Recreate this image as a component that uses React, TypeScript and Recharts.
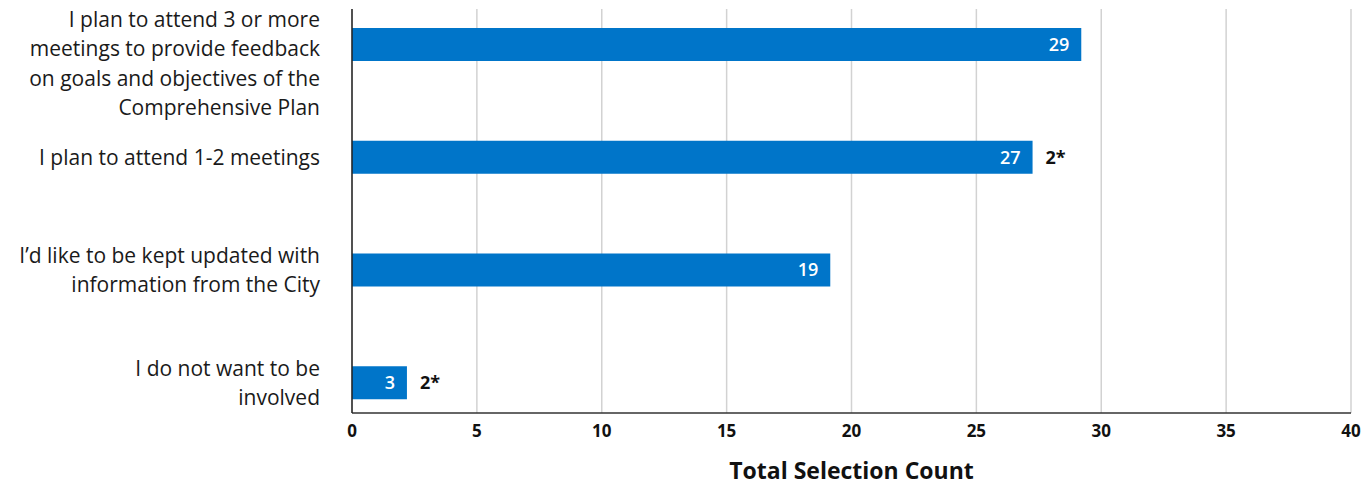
import React from "react"
import { BarChart, Bar, XAxis, YAxis, CartesianGrid, LabelList } from "recharts"

const categories = [
	"I plan to attend 3 or more\nmeetings to provide feedback\non goals and objectives of the\nComprehensive Plan",
	"I plan to attend 1-2 meetings",
	"I’d like to be kept updated with\ninformation from the City",
	"I do not want to be\ninvolved",
]
const barValues = [29.2, 27.25, 19.15, 2.2]
const countLabels = ["29", "27", "19", "3"]
const noteLabels = ["", "2*", "", "2*"]
const xTicks = [0, 5, 10, 15, 20, 25, 30, 35, 40]

const data = categories.map((c, i) => ({
	name: c,
	value: barValues[i],
	count: countLabels[i],
	note: noteLabels[i],
}))

const FONT = "'Open Sans', Lato, sans-serif"

function CategoryTick({ y, payload }: any) {
	const lines = String(payload.value).split("\n")
	const lh = 29.3
	let first = y - ((lines.length - 1) * lh) / 2
	if (first < 19.5) first = 19.5
	const tx = 320
	return (
		<text x={tx} y={first} textAnchor="end" fontFamily={FONT} fontSize={21} fill="#1a1a1a">
			{lines.map((l, i) => (
				<tspan key={i} x={tx} y={first + i * lh} dy="0.36em">
					{l}
				</tspan>
			))}
		</text>
	)
}

function NumberTick({ x, y, payload }: any) {
	return (
		<text x={x} y={y + 16} textAnchor="middle" fontFamily={FONT} fontSize={17} fontWeight={700} fill="#111">
			{payload.value}
		</text>
	)
}

export default function App() {
	return (
		<div style={{ position: "absolute", left: 0, top: 0, background: "#fff" }}>
			<BarChart
				width={1367}
				height={487}
				data={data}
				layout="vertical"
				margin={{ top: 9, right: 16, bottom: 0, left: 0 }}
			>
				<CartesianGrid horizontal={false} stroke="#d2d2d2" strokeWidth={1.5} />
				<XAxis
					type="number"
					domain={[0, 40]}
					ticks={xTicks}
					interval={0}
					tick={<NumberTick />}
					tickLine={false}
					axisLine={{ stroke: "#333", strokeWidth: 1.5 }}
					height={74}
					label={{
						value: "Total Selection Count",
						position: "insideBottom",
						offset: 8,
						fontFamily: FONT,
						fontSize: 23,
						fontWeight: 700,
						fill: "#111",
					}}
				/>
				<YAxis
					type="category"
					dataKey="name"
					width={352}
					tick={<CategoryTick />}
					tickLine={false}
					axisLine={{ stroke: "#222", strokeWidth: 1.5 }}
					padding={{ top: -21, bottom: -26 }}
					interval={0}
				/>
				<Bar dataKey="value" fill="#0075c9" barSize={33} isAnimationActive={false}>
					<LabelList
						dataKey="count"
						position="insideRight"
						offset={12}
						fill="#fff"
						fontFamily={FONT}
						fontSize={18}
						fontWeight={600}
					/>
					<LabelList
						dataKey="note"
						position="right"
						offset={13}
						fill="#111"
						fontFamily={FONT}
						fontSize={18}
						fontWeight={700}
					/>
				</Bar>
			</BarChart>
		</div>
	)
}
